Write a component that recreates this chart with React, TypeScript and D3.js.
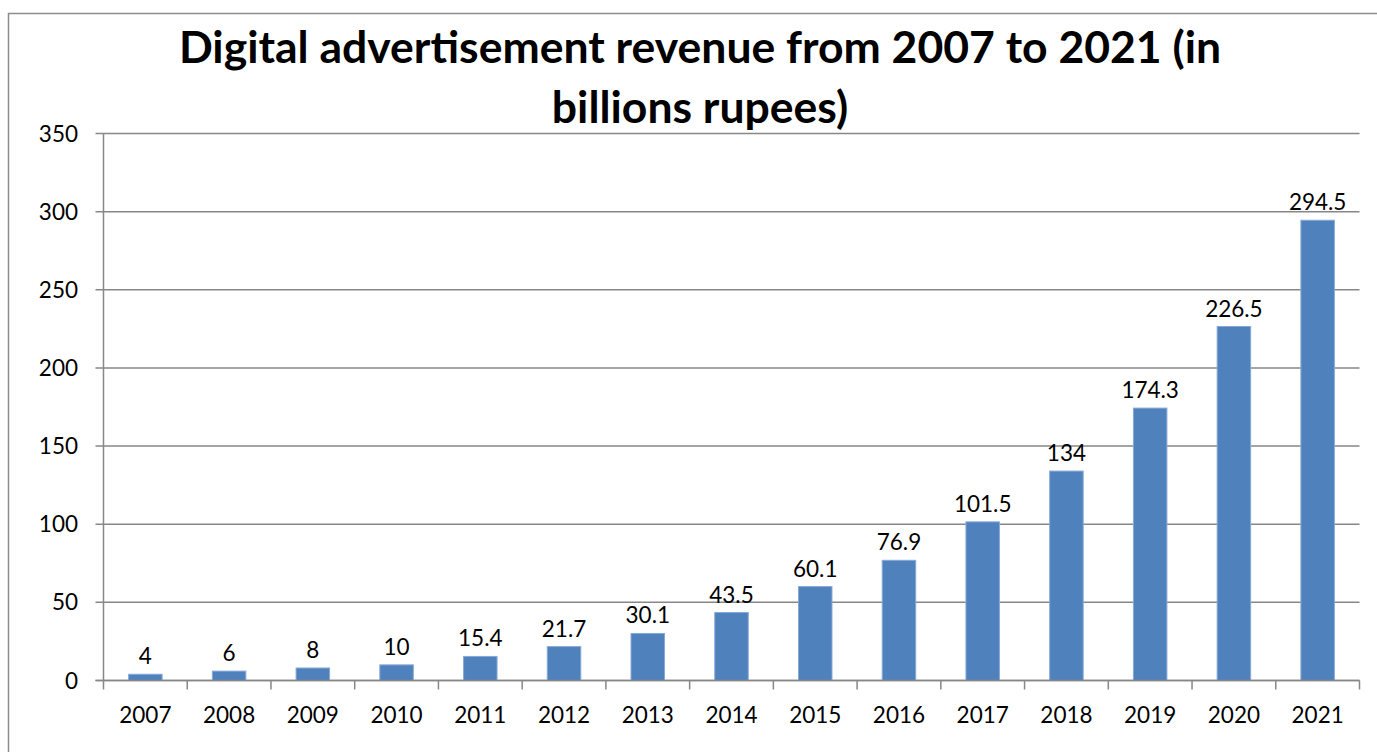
import * as d3 from "d3";
import React, { useEffect, useRef } from "react";

const years = ["2007", "2008", "2009", "2010", "2011", "2012", "2013", "2014", "2015", "2016", "2017", "2018", "2019", "2020", "2021"];
const revenue = [4, 6, 8, 10, 15.4, 21.7, 30.1, 43.5, 60.1, 76.9, 101.5, 134, 174.3, 226.5, 294.5];
const yTicks = [0, 50, 100, 150, 200, 250, 300, 350];
const titleLines = ["Digital advertisement revenue from 2007 to 2021 (in", "billions rupees)"];

const width = 1377;
const height = 752;
const plot = { left: 103.5, right: 1359.5, top: 133.5, bottom: 680.5 };
const font = "Lato, 'Open Sans', sans-serif";
const grid = "#878787";

export default function App() {
  const ref = useRef<SVGSVGElement>(null);

  useEffect(() => {
    const svg = d3.select(ref.current);
    svg.selectAll("*").remove();

    // outer chart border
    svg
      .append("rect")
      .attr("x", 8.5)
      .attr("y", 13.5)
      .attr("width", 1400)
      .attr("height", 800)
      .attr("fill", "white")
      .attr("stroke", "#8c8c8c")
      .attr("stroke-width", 1.5);

    const x = d3
      .scaleBand()
      .domain(years)
      .range([plot.left, plot.right])
      .paddingInner(0.6)
      .paddingOuter(0.3);
    const y = d3.scaleLinear().domain([0, 350]).range([plot.bottom, plot.top]);
    const step = x.step();

    // gridlines
    svg
      .append("g")
      .selectAll("line")
      .data(yTicks)
      .enter()
      .append("line")
      .attr("x1", plot.left - 8)
      .attr("x2", plot.right)
      .attr("y1", (d) => y(d))
      .attr("y2", (d) => y(d))
      .attr("stroke", grid)
      .attr("stroke-width", 1.5);

    // y labels
    svg
      .append("g")
      .selectAll("text")
      .data(yTicks)
      .enter()
      .append("text")
      .attr("x", 78)
      .attr("y", (d) => y(d))
      .attr("dy", "0.36em")
      .attr("text-anchor", "end")
      .style("font-family", font)
      .style("font-size", "22.5px")
      .text((d) => d);

    // y axis line
    svg
      .append("line")
      .attr("x1", plot.left)
      .attr("x2", plot.left)
      .attr("y1", plot.top)
      .attr("y2", plot.bottom)
      .attr("stroke", grid)
      .attr("stroke-width", 1.5);

    // x tick marks at category boundaries
    svg
      .append("g")
      .selectAll("line")
      .data(d3.range(years.length + 1))
      .enter()
      .append("line")
      .attr("x1", (i) => plot.left + i * step)
      .attr("x2", (i) => plot.left + i * step)
      .attr("y1", plot.bottom)
      .attr("y2", plot.bottom + 9)
      .attr("stroke", grid)
      .attr("stroke-width", 1.5);

    // bars
    svg
      .append("g")
      .selectAll("rect")
      .data(revenue)
      .enter()
      .append("rect")
      .attr("x", (d, i) => x(years[i]))
      .attr("y", (d) => y(d))
      .attr("width", x.bandwidth())
      .attr("height", (d) => y(0) - y(d))
      .attr("fill", "#4f81bd")
      .attr("stroke", "#86a9d6")
      .attr("stroke-width", 1);

    // x axis line on top of bars
    svg
      .append("line")
      .attr("x1", plot.left - 8)
      .attr("x2", plot.right)
      .attr("y1", plot.bottom)
      .attr("y2", plot.bottom)
      .attr("stroke", grid)
      .attr("stroke-width", 1.5);

    // x labels
    svg
      .append("g")
      .selectAll("text")
      .data(years)
      .enter()
      .append("text")
      .attr("x", (d) => x(d) + x.bandwidth() / 2)
      .attr("y", 723)
      .attr("text-anchor", "middle")
      .style("font-family", font)
      .style("font-size", "22.5px")
      .text((d) => d);

    // value labels
    svg
      .append("g")
      .selectAll("text")
      .data(revenue)
      .enter()
      .append("text")
      .attr("x", (d, i) => x(years[i]) + x.bandwidth() / 2)
      .attr("y", (d) => y(d) - 10)
      .attr("text-anchor", "middle")
      .style("font-family", font)
      .style("font-size", "22.5px")
      .text((d) => d);

    // title
    svg
      .append("g")
      .selectAll("text")
      .data(titleLines)
      .enter()
      .append("text")
      .attr("x", 700)
      .attr("y", (d, i) => 63 + i * 60)
      .attr("text-anchor", "middle")
      .style("font-family", font)
      .style("font-weight", "bold")
      .style("font-size", "44.5px")
      .text((d) => d);
  }, []);

  return (
    <div style={{ position: "absolute", left: 0, top: 0 }}>
      <svg ref={ref} width={width} height={height} style={{ display: "block" }} />
    </div>
  );
}
